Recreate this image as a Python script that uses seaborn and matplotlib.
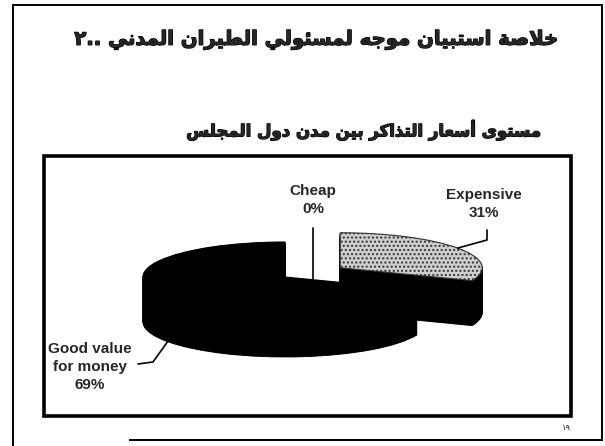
import re
import numpy as np
import matplotlib
matplotlib.use("Agg")
import matplotlib.pyplot as plt
import matplotlib.patheffects as pe
from matplotlib.lines import Line2D
from matplotlib.patches import Rectangle
import seaborn as sns

# --- data ---
title = "خلاصة استبيان موجه لمسئولي الطيران المدني ..٢"
subtitle = "مستوى أسعار التذاكر بين مدن دول المجلس"
page_no = "١٩"
categories = ["Expensive", "Good value\nfor money", "Cheap"]
shares = [31, 69, 0]
explode = [0.47, 0, 0]

# --- simple arabic shaping (no reshaper available) ---
AR = {
    'ا': (0xFE8D, 2), 'أ': (0xFE83, 2), 'ب': (0xFE8F, 4), 'ة': (0xFE93, 2),
    'ت': (0xFE95, 4), 'ج': (0xFE9D, 4), 'خ': (0xFEA5, 4), 'د': (0xFEA9, 2),
    'ذ': (0xFEAB, 2), 'ر': (0xFEAD, 2), 'س': (0xFEB1, 4), 'ص': (0xFEB9, 4),
    'ط': (0xFEC1, 4), 'ع': (0xFEC9, 4), 'ك': (0xFED9, 4), 'ل': (0xFEDD, 4),
    'م': (0xFEE1, 4), 'ن': (0xFEE5, 4), 'ه': (0xFEE9, 4), 'و': (0xFEED, 2),
    'ى': (0xFEEF, 2), 'ي': (0xFEF1, 4), 'ئ': (0xFE89, 4),
}
LAM_ALEF = {'ا': 0xFEFB, 'أ': 0xFEF7}


def arabic(text):
    out = []
    i = 0
    while i < len(text):
        c = text[i]
        if c not in AR:
            out.append(c)
            i += 1
            continue
        prev = text[i - 1] if i > 0 else ''
        jp = prev in AR and AR[prev][1] == 4
        nxt = text[i + 1] if i + 1 < len(text) else ''
        if c == 'ل' and nxt in LAM_ALEF:
            out.append(chr(LAM_ALEF[nxt] + (1 if jp else 0)))
            i += 2
            continue
        base, kind = AR[c]
        jn = kind == 4 and nxt in AR
        off = 3 if (jp and jn) else 1 if jp else 2 if jn else 0
        out.append(chr(base + off))
        i += 1
    s = ''.join(out)[::-1]
    return re.sub(r'[0-9\u0660-\u0669]+', lambda m: m.group(0)[::-1], s)


sns.set_style("white")
plt.rcParams['font.family'] = ['Liberation Sans', 'DejaVu Sans']

W, H = 605, 446
fig = plt.figure(figsize=(W / 100, H / 100), dpi=100)


def fp(x, y):
    return x / W, 1 - y / H


def fline(x0, y0, x1, y1, lw):
    a, b = fp(x0, y0)
    c, d = fp(x1, y1)
    fig.add_artist(Line2D([a, c], [b, d], color='black', lw=lw,
                          transform=fig.transFigure, solid_capstyle='projecting'))


# outer slide frame
fline(13, 5, 13, 446, 1.4)
fline(13, 5, 602, 5, 1.4)
fline(602, 5, 602, 440, 1.4)
fline(130, 440, 602, 440, 1.4)

# titles (heavier stroke to mimic the scanned bold arabic face)
heavy = [pe.withStroke(linewidth=0.9, foreground='black')]
t1 = fig.text(*fp(317, 40), arabic(title), ha='center', va='center',
              fontsize=18, fontweight='bold', family=['DejaVu Sans'],
              path_effects=heavy)
t2 = fig.text(*fp(540, 130), arabic(subtitle), ha='right', va='center',
              fontsize=14, fontweight='bold', family=['DejaVu Sans'],
              path_effects=heavy)
fig.canvas.draw()
r = fig.canvas.get_renderer()
for t, wpx in [(t1, 485), (t2, 357)]:
    t.set_fontsize(t.get_fontsize() * wpx / t.get_window_extent(r).width)

fig.text(*fp(566, 428), page_no, ha='center', va='center', fontsize=6,
         family=['DejaVu Sans'])

# chart box
bx0, by0, bx1, by1 = 44, 156, 571, 416
ax = fig.add_axes([bx0 / W, 1 - by1 / H, (bx1 - bx0) / W, (by1 - by0) / H])
fig.add_artist(Rectangle(fp(bx0, by1), (bx1 - bx0) / W, (by1 - by0) / H,
                         fill=False, lw=2.6, ec='black', transform=fig.transFigure,
                         zorder=5))

# pie geometry in pixels (top face centre, radii, depth)
cx, cy, rx, ry, dz = 285, 277, 142, 35, 45
depth = dz / ry
n_layers = 70

for z in np.linspace(-depth, 0, n_layers)[:-1]:
    ax.pie(shares, explode=explode, startangle=90, counterclock=False,
           colors=['black'] * 3, center=(0, z), frame=True,
           wedgeprops=dict(linewidth=0.6, edgecolor='black'))

wedges, _ = ax.pie(shares, explode=explode, startangle=90, counterclock=False,
                   colors=['#cfcfcf', 'black', 'white'], center=(0, 0), frame=True,
                   hatch=['....', '', ''],
                   wedgeprops=dict(linewidth=0.8, edgecolor='#333333'))
wedges[1].set_edgecolor('black')
wedges[2].set_edgecolor('none')

ax.set_aspect('auto')
ax.set_xlim((bx0 - cx) / rx, (bx1 - cx) / rx)
ax.set_ylim((cy - by1) / ry, (cy - by0) / ry)
ax.axis('off')


def d(px, py):
    return (px - cx) / rx, (cy - py) / ry


def mid(w):
    return np.deg2rad((w.theta1 + w.theta2) / 2)


lab = dict(ha='center', va='center', fontsize=11, fontweight='bold',
           linespacing=1.35)

# Expensive
w = wedges[0]
a = mid(w)
ex, ey = w.center
p0 = (ex + np.cos(a), ey + np.sin(a))
p1 = d(487, 240)
p2 = d(487, 230)
ax.plot([p0[0], p1[0], p2[0]], [p0[1], p1[1], p2[1]], color='black', lw=1.2)
ax.text(*d(484, 204), f"{categories[0]}\n{shares[0]}%", **lab)

# Good value for money
w = wedges[1]
a = mid(w)
gx, gy = w.center
p0 = (gx + np.cos(a), gy + np.sin(a) - depth)
p1 = d(153, 362)
p2 = d(138, 364)
ax.plot([p0[0], p1[0], p2[0]], [p0[1], p1[1], p2[1]], color='black', lw=1.2)
ax.text(*d(90, 367), f"{categories[1]}\n{shares[1]}%", clip_on=False, **lab)

# Cheap (zero slice) sits in the gap left by the exploded slice
gap_x = wedges[0].center[0] / 2
edge = np.deg2rad(wedges[0].theta1)
ax.plot([gap_x, gap_x], [d(0, 228)[1], gap_x * np.tan(edge)], color='black', lw=1.2)
ax.text(*d(313, 200), f"{categories[2]}\n{shares[2]}%", **lab)

fig.savefig("out.png", dpi=100)
